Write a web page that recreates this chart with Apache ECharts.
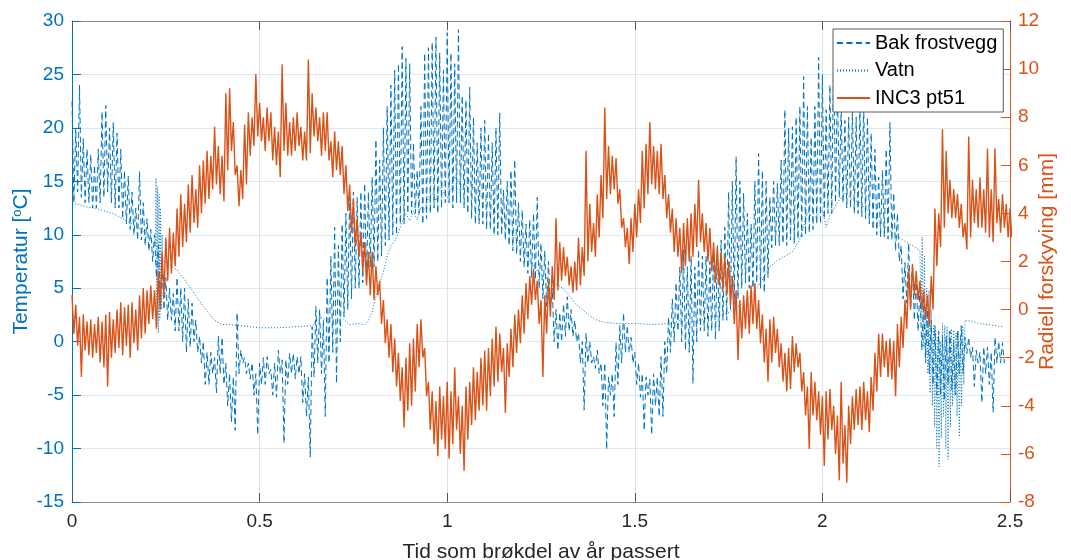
<!DOCTYPE html>
<html>
<head>
<meta charset="utf-8">
<title>Temperatur og radiell forskyving</title>
<script src="https://cdn.jsdelivr.net/npm/echarts@6/dist/echarts.min.js"></script>
<style>
  html, body { margin: 0; padding: 0; background: #fff; }
  #chart { width: 1071px; height: 560px; }
</style>
</head>
<body>
<div id="chart"></div>
<script>
  // tick labels
  var xTickLabels = ['0', '0.5', '1', '1.5', '2', '2.5'];
  var tempTickLabels = ['-15', '-10', '-5', '0', '5', '10', '15', '20', '25', '30'];
  var mmTickLabels = ['-8', '-6', '-4', '-2', '0', '2', '4', '6', '8', '10', '12'];

  // Bak frostvegg: high / low of the daily swing, one pair every 0.01 year (from 0 to 2.48)
  var bakMax = [
    22.5, 20, 24, 19, 18, 17.5, 16.5, 18, 21.5, 22.1,      // 0.00
    20, 20.5, 19.5, 18, 16, 15.5, 14, 12.5, 15.9, 13,       // 0.10
    11.5, 10.5, 10, 9, 7, 6, 5, 4.5, 6, 5,                  // 0.20
    5, 4, 3.6, 2, 0.5, 0, -1, -1, -1.5, 0.5,                // 0.30
    0.4, -2, -3, -3.3, 2.7, -0.8, -1.5, -2, -2, -3,         // 0.40
    -2, -1.5, -1.4, -2.6, -2, -0.8, -1.7, -1.7, -1.1, -1.1, // 0.50
    -1.4, -1.4, -3, -3.3, 1.4, 3.3, 3, 2, 6, 8,             // 0.60
    10.7, 9, 11, 12, 13.5, 14, 13.5, 14, 14.8, 14,          // 0.70
    15.4, 18.9, 17, 20, 22, 24, 25.4, 26, 27.6, 26.5,       // 0.80
    26, 18.6, 16, 22, 27, 27.5, 28, 28.5, 27, 25.4,         // 0.90
    28.9, 27, 26, 29.2, 23, 22.6, 23.8, 21, 18.6, 20,       // 1.00
    20.7, 19.5, 18.6, 20, 21.4, 14.2, 15, 16, 17, 13,       // 1.10
    12.3, 11, 11.4, 12, 13.5, 9.2, 8.5, 7.5, 5, 3,          // 1.20
    2.7, 3.5, 4.2, 3, 2, 0.8, 0, 0.8, 0, -1.4,              // 1.30
    -0.8, -2, -2, -3.3, -3, -0.1, 1.5, 2.7, 1.5, 0.4,       // 1.40
    -1, -2, -3, -3.3, -3.5, -3, -3.3, -1.4, 0, 2.3,         // 1.50
    4, 5.5, 7, 8.6, 7, 8, 7, 8.6, 8, 8,                     // 1.60
    7.5, 8.6, 9, 9.5, 10.7, 14, 15, 17.3, 15, 13.9,         // 1.70
    12, 11, 15, 17.6, 16, 15, 13.5, 15, 14.8, 17,           // 1.80
    21.7, 20, 20.1, 21, 22, 24.8, 22, 19.1, 22, 26.6,       // 1.90
    25, 21.7, 24, 27, 24, 22, 20.7, 21, 21.7, 21,           // 2.00
    22, 22.3, 21, 19.5, 18, 15.4, 16, 18, 20.5, 13.9,       // 2.10
    12, 9, 7.4, 9.2, 7, 6, 5, 4, 3, 2,                      // 2.20
    1.5, 1, 0.5, 0.5, 1, 0, 1, 1.5, 0.4, 0.4,               // 2.30
    -0.5, -0.8, -1, -0.5, -0.5, -1, 0.4, 0, -0.1            // 2.40
  ];
  var bakMin = [
    13, 14, 13.5, 13, 13, 12.5, 12.5, 13, 13.5, 14,         // 0.00
    13, 12.5, 12.5, 11.5, 11, 10.5, 10, 9.5, 9.5, 9,        // 0.10
    8.5, 7.5, 6, 4, 3, 2, 2, 1, 1, 0,                       // 0.20
    -1, -0.5, 0, -1, -2, -4, -4, -3, -4.8, -3,              // 0.30
    -4, -6, -7.5, -8.3, -3, -2, -3, -3.5, -5, -8.7,         // 0.40
    -4, -4, -3, -5, -5.2, -3, -9.5, -4, -3, -3.5,           // 0.50
    -3, -5.7, -7, -10.8, -3.3, -2, -3, -7, -2, -1,          // 0.60
    -3.9, 0, 2.3, 3, 4, 5, 5, 5.5, 6, 7,                    // 0.70
    7, 7.5, 8, 9, 9.5, 10, 10, 11, 11, 12,                  // 0.80
    12, 12, 12, 11, 11.5, 12, 12.5, 12, 12.5, 13,           // 0.90
    13, 12.5, 13, 13, 12.5, 12, 11.5, 11, 11, 11,           // 1.00
    10.5, 10.5, 10, 10, 10, 9.5, 9, 8.5, 8.2, 7.5,          // 1.10
    7, 6.4, 6, 5.8, 5, 4, 3.3, 3, 0, -0.8,                  // 1.20
    0, 0.5, 1, 0.5, 0, -2, -6.4, -2, -2, -2.5,              // 1.30
    -3, -6, -10.1, -5, -7, -4, -2, -1, -1, -2,              // 1.40
    -4, -5.2, -8.3, -5, -8.7, -6, -7, -7, -3, -1,           // 1.50
    0, 1, 0, -0.8, -1, -3.9, 0, 1, 1, 0.5,                  // 1.60
    1, 0.2, 1, 2, 2, 3, 3.5, 4, 5, 5.5,                     // 1.70
    5, 5, 5.5, 5, 4.6, 6, 8.8, 9, 9, 9.2,                   // 1.80
    9, 9.5, 9.2, 9.6, 9.8, 10, 10.2, 10.5, 11, 11,          // 1.90
    11.5, 12, 12, 13, 13.5, 13, 12.5, 12.5, 12, 12,         // 2.00
    11.7, 11.5, 11, 10.5, 10, 9.8, 9.8, 9.6, 9.5, 8.5,      // 2.10
    7.5, 4, 3.6, 3, 2, 1, -0.8, -2, -3, -4,                 // 2.20
    -5, -5, -5.5, -4, -4.5, -5, -3, -3, -1.1, -1.5,         // 2.30
    -4.2, -2, -5.7, -3, -4, -6.6, -2, -2, -2                // 2.40
  ];

  // Vatn
  var vatnTid = [
    0, 0.02, 0.04, 0.06, 0.08, 0.10, 0.12, 0.14, 0.16, 0.18, 0.20, 0.21,
    0.222, 0.224, 0.226, 0.228, 0.230, 0.232, 0.234, 0.236, 0.238, 0.240, 0.242,
    0.25, 0.28, 0.30, 0.32, 0.35, 0.38, 0.40, 0.42, 0.45, 0.50, 0.55, 0.60, 0.64,
    0.66, 0.68, 0.70, 0.72, 0.74, 0.76, 0.78, 0.79, 0.80, 0.81, 0.82, 0.83, 0.84,
    0.85, 0.86, 0.87, 0.88, 0.89, 0.90, 0.91, 0.92, 0.93, 0.94, 0.95, 0.96, 0.97,
    0.98, 0.99, 1.00, 1.01, 1.02, 1.03, 1.04, 1.05, 1.06, 1.07, 1.08, 1.10, 1.12,
    1.14, 1.16, 1.18, 1.20, 1.22, 1.24, 1.26, 1.28, 1.30, 1.32, 1.34, 1.36, 1.38,
    1.40, 1.42, 1.45, 1.50, 1.55, 1.60, 1.62, 1.64, 1.66, 1.68, 1.70, 1.72, 1.74,
    1.76, 1.78, 1.80, 1.82, 1.84, 1.86, 1.88, 1.90, 1.92, 1.94, 1.96, 1.98, 2.00,
    2.01, 2.02, 2.04, 2.06, 2.08, 2.10, 2.12, 2.14, 2.16, 2.18, 2.20, 2.22, 2.24,
    2.260, 2.263, 2.266, 2.269, 2.272, 2.275, 2.278, 2.281, 2.284, 2.287, 2.290,
    2.293, 2.296, 2.299, 2.302, 2.305, 2.308, 2.311, 2.314, 2.317, 2.320, 2.323,
    2.326, 2.329, 2.332, 2.335, 2.338, 2.341, 2.344, 2.347, 2.350, 2.353, 2.356,
    2.359, 2.362, 2.365, 2.368, 2.371, 2.374, 2.377, 2.380,
    2.40, 2.42, 2.44, 2.46, 2.48
  ];
  var vatnTemp = [
    13.0, 12.8, 12.6, 12.5, 12.3, 12.1, 11.8, 11.4, 11.0, 10.6, 10.0, 9.5,
    9, 15.3, 1.5, 14.5, 0.8, 13.8, 2, 12.5, 3, 10, 7.5,
    7.4, 6.7, 5.8, 4.8, 3.3, 2.0, 1.6, 1.6, 1.5, 1.3, 1.3, 1.4, 1.5,
    2.3, 2.0, 1.8, 2.2, 1.6, 1.7, 1.6, 2.0, 2.8, 4.2, 5.5, 6.5, 8.0,
    9.0, 9.4, 10.2, 11.2, 12.0, 11.3, 12.2, 11.4, 12.6, 12.3, 13.5, 13.9, 13.2,
    14.4, 14.0, 13.5, 14.2, 15.4, 15.0, 14.2, 14.6, 15.1, 14.4, 14.0, 13.2, 12.6,
    11.6, 10.8, 9.8, 8.8, 7.6, 6.6, 6.0, 5.6, 5.2, 4.6, 3.6, 3.0, 2.4,
    2.0, 1.8, 1.7, 1.7, 1.6, 1.7, 2.0, 1.8, 1.9, 2.1, 2.3, 2.4, 2.6,
    2.9, 3.4, 3.9, 4.8, 5.8, 7.0, 7.6, 8.0, 8.4, 9.6, 12.0, 11.6, 12.3,
    10.7, 11.8, 13.0, 13.9, 13.3, 13.0, 12.3, 11.6, 11.0, 10.4, 9.8, 9.4, 9.0,
    8.5, 2, 9.8, -0.5, 8, -1.5, 5, -3, 4.8, -4.8, 3,
    -6, 1.5, -8, 1, -10, 0.5, -11.7, 0, -9, 1.7, -7,
    1.5, -10, 1.4, -11, 1.0, -8, 1.2, -6, 1.1, -5, 0.8,
    -7, 1.0, -8.9, 0.6, -6, 1.5, -4, 2.0,
    1.9, 1.7, 1.6, 1.5, 1.4
  ];

  // INC3 pt51 (mm): high / low of the noisy band, one pair every 0.01 year (from 0 to 2.50)
  var incMax = [
    0.6, 0.2, -0.3, -0.2, -0.5, -0.4, -0.6, -0.3, -0.5, -0.2,   // 0.00
    -0.1, -0.4, 0.0, 0.3, 0.1, 0.2, 0.3, 0.0, 0.6, 0.9,         // 0.10
    0.8, 1.0, 0.8, 1.6, 2.4, 3.0, 3.4, 3.2, 4.2, 4.8,           // 0.20
    4.4, 5.2, 5.6, 5.0, 6.0, 6.2, 6.6, 6.4, 7.6, 6.8,           // 0.30
    6.4, 9.0, 9.2, 7.8, 6.0, 5.8, 7.7, 8.2, 8.0, 9.8,           // 0.40
    8.6, 8.0, 8.4, 8.2, 7.6, 7.4, 10.2, 8.6, 7.8, 8.0,          // 0.50
    8.2, 7.6, 7.4, 10.4, 9.0, 8.4, 8.0, 8.2, 8.2, 7.0,          // 0.60
    7.4, 7.0, 6.8, 6.0, 5.2, 4.6, 3.8, 3.2, 2.8, 2.4,           // 0.70
    2.4, 1.8, 1.2, 0.4, -0.4, -0.6, -1.2, -1.8, -2.4, -2.0,     // 0.80
    -1.4, -1.2, -0.6, -0.4, -1.6, -3.0, -3.4, -3.8, -3.2, -3.6, // 0.90
    -3.0, -3.4, -2.4, -3.6, -4.0, -3.2, -3.0, -2.4, -2.6, -2.0, // 1.00
    -1.7, -1.6, -1.2, -0.7, -1.0, -1.6, -1.4, -0.8, -0.2, 0.0,  // 1.10
    0.6, 1.1, 1.4, 1.7, 1.2, 0.4, 0.6, 1.2, 1.8, 3.8,           // 1.20
    2.8, 2.6, 2.2, 1.8, 2.0, 3.0, 2.6, 6.6, 4.4, 3.6,           // 1.30
    4.8, 5.6, 8.4, 6.8, 6.4, 6.3, 5.0, 3.8, 3.4, 3.8,           // 1.40
    4.4, 5.0, 6.6, 6.9, 7.8, 6.8, 6.6, 6.9, 5.6, 4.8,           // 1.50
    4.2, 3.8, 3.4, 3.6, 3.8, 4.0, 4.4, 5.4, 4.0, 3.6,           // 1.60
    3.4, 2.8, 2.6, 2.4, 2.2, 2.0, 1.4, 0.8, 0.4, 0.6,           // 1.70
    0.8, 1.0, 1.1, 0.4, -0.2, -0.8, -0.4, -0.3, -0.8, -1.4,     // 1.80
    -1.8, -1.6, -1.1, -1.4, -1.8, -2.6, -3.2, -2.6, -3.0, -3.4, // 1.90
    -3.6, -3.4, -3.3, -4.0, -4.4, -3.0, -4.8, -4.0, -3.6, -3.3, // 2.00
    -3.2, -3.0, -3.4, -2.8, -1.8, -1.0, -1.0, -1.3, -1.2, -1.3, // 2.10
    -0.6, -0.3, 0.4, 1.7, 1.9, 1.6, 1.2, 0.8, 0.6, 1.4,         // 2.20
    4.2, 4.0, 7.5, 6.6, 5.4, 5.0, 4.8, 4.4, 3.6, 7.2,           // 2.30
    5.4, 5.0, 5.5, 5.0, 6.7, 5.0, 6.7, 4.6, 4.8, 4.4,           // 2.40
    4.2                                                          // 2.50
  ];
  var incMin = [
    -1.0, -1.5, -2.8, -1.7, -1.9, -2.0, -1.8, -2.2, -2.4, -3.2, // 0.00
    -2.0, -1.8, -1.6, -1.9, -1.5, -2.0, -1.4, -1.7, -1.2, -1.0, // 0.10
    -0.6, -0.4, -0.8, 0.0, 0.6, 1.2, 1.5, 1.8, 2.2, 2.6,        // 0.20
    2.8, 3.2, 3.6, 3.4, 4.0, 4.4, 4.6, 5.0, 5.2, 4.8,           // 0.30
    4.5, 5.8, 6.6, 5.6, 4.3, 4.6, 5.2, 6.4, 6.8, 7.2,           // 0.40
    7.0, 6.6, 7.0, 6.2, 6.0, 5.5, 6.6, 6.4, 6.4, 6.6,           // 0.50
    6.8, 6.2, 6.2, 6.5, 7.2, 7.0, 6.4, 6.6, 6.2, 5.5,           // 0.60
    5.8, 5.6, 4.8, 4.1, 3.2, 2.6, 2.2, 1.6, 1.0, 0.6,           // 0.70
    0.4, 0.6, -0.6, -1.4, -2.0, -2.6, -3.2, -3.8, -4.9, -4.2,   // 0.80
    -4.0, -3.4, -2.4, -2.0, -3.6, -5.0, -5.6, -6.1, -5.4, -5.8, // 0.90
    -6.2, -5.6, -5.0, -6.0, -6.7, -5.4, -4.8, -4.6, -4.2, -4.0, // 1.00
    -4.2, -3.6, -3.2, -3.0, -2.6, -4.3, -2.8, -2.4, -1.8, -1.4, // 1.10
    -1.0, -0.4, 0.2, 0.4, -0.6, -2.8, -1.0, -0.3, 0.4, 0.8,     // 1.20
    1.2, 1.4, 1.0, 0.7, 0.8, 1.0, 1.4, 2.0, 2.4, 2.2,           // 1.30
    3.0, 3.8, 4.6, 4.8, 5.0, 4.4, 3.4, 2.6, 1.9, 2.4,           // 1.40
    3.0, 3.6, 4.2, 4.8, 5.2, 5.0, 4.8, 4.6, 3.8, 3.2,           // 1.50
    2.4, 2.2, 1.5, 1.8, 2.0, 2.2, 2.6, 2.8, 2.4, 2.0,           // 1.60
    1.6, 1.1, 1.0, 0.8, 0.6, 0.2, -0.6, -2.1, -1.2, -0.8,       // 1.70
    -1.0, -0.6, -0.8, -1.4, -2.2, -3.0, -2.2, -1.8, -2.4, -3.0, // 1.80
    -3.4, -3.3, -2.6, -2.4, -3.4, -4.4, -5.8, -4.4, -4.6, -5.2, // 1.90
    -6.5, -5.4, -5.0, -6.0, -7.1, -6.4, -7.2, -5.6, -5.0, -4.8, // 2.00
    -5.0, -4.6, -5.1, -4.2, -3.4, -2.8, -2.4, -2.8, -2.9, -3.6, // 2.10
    -2.4, -1.6, -0.8, 0.0, 0.6, 0.4, 0.0, -0.4, -0.7, 0.0,      // 2.20
    1.8, 2.6, 3.4, 4.0, 3.8, 3.8, 3.4, 3.0, 2.5, 3.0,           // 2.30
    3.6, 3.4, 3.4, 3.2, 3.0, 2.8, 3.6, 3.2, 3.4, 3.0,           // 2.40
    3.0                                                          // 2.50
  ];

  var STEP = 0.01;

  // max at the start of each step, min half a step later
  function swing(hi, lo) {
    var out = [];
    for (var i = 0; i < hi.length; i++) {
      out.push([+(i * STEP).toFixed(3), hi[i]]);
      out.push([+(i * STEP + STEP / 2).toFixed(3), lo[i]]);
    }
    return out;
  }

  function pairs(xs, ys) {
    return xs.map(function (x, i) { return [x, ys[i]]; });
  }

  var blue = '#0072BD';
  var orange = '#D95319';
  var font = 'Liberation Sans, Arial, Helvetica, sans-serif';

  var chart = echarts.init(document.getElementById('chart'), null, { renderer: 'canvas' });

  var option = {
    animation: false,
    backgroundColor: '#fff',
    textStyle: { fontFamily: font },
    grid: { left: 72, right: 61, top: 21, bottom: 58, containLabel: false, outerBoundsMode: 'none' },
    legend: {
      orient: 'vertical',
      left: 833,
      top: 29,
      padding: [4, 6, 4, 3],
      itemGap: 7.5,
      itemWidth: 33,
      itemHeight: 20,
      itemTextGap: 4,
      itemStyle: { opacity: 0, borderWidth: 0 },
      backgroundColor: '#fff',
      borderColor: '#5a5a5a',
      borderWidth: 1,
      borderRadius: 0,
      textStyle: { color: '#000', fontSize: 20, fontFamily: font },
      data: ['Bak frostvegg', 'Vatn', 'INC3 pt51']
    },
    xAxis: [
      {
        type: 'value',
        position: 'bottom',
        min: 0,
        max: 2.5,
        interval: 0.5,
        name: 'Tid som brøkdel av år passert',
        nameLocation: 'middle',
        nameGap: 40,
        nameMoveOverlap: false,
        nameTextStyle: { color: '#262626', fontSize: 21 },
        axisLine: { onZero: false, lineStyle: { color: '#8c8c8c', width: 1 } },
        axisTick: { inside: true, length: 9, lineStyle: { color: '#555' } },
        axisLabel: {
          color: '#262626',
          fontSize: 19,
          margin: 10,
          formatter: function (v) { return xTickLabels[Math.round(v / 0.5)]; }
        },
        splitLine: { show: true, lineStyle: { color: '#e1e1e1', width: 1 } }
      },
      {
        type: 'value',
        position: 'top',
        min: 0,
        max: 2.5,
        interval: 0.5,
        axisLine: { onZero: false, lineStyle: { color: '#8c8c8c', width: 1 } },
        axisTick: { inside: true, length: 9, lineStyle: { color: '#555' } },
        axisLabel: { show: false },
        splitLine: { show: false }
      }
    ],
    yAxis: [
      {
        type: 'value',
        position: 'left',
        min: -15,
        max: 30,
        interval: 5,
        name: 'Temperatur [{s|o}C]',
        nameLocation: 'middle',
        nameRotate: 90,
        nameGap: 40,
        nameMoveOverlap: false,
        nameTextStyle: {
          color: blue,
          fontSize: 21,
          rich: { s: { color: blue, fontSize: 13, verticalAlign: 'top', lineHeight: 21 } }
        },
        axisLine: { show: true, onZero: false, lineStyle: { color: blue, width: 1 } },
        axisTick: { show: true, inside: true, length: 9, lineStyle: { color: blue } },
        axisLabel: {
          color: blue,
          fontSize: 19,
          margin: 8,
          formatter: function (v) { return tempTickLabels[Math.round((v + 15) / 5)]; }
        },
        splitLine: { show: true, lineStyle: { color: '#d9eaf5', width: 1 } }
      },
      {
        type: 'value',
        position: 'right',
        min: -8,
        max: 12,
        interval: 2,
        name: 'Radiell forskyving [mm]',
        nameLocation: 'middle',
        nameRotate: 90,
        nameGap: 27,
        nameMoveOverlap: false,
        nameTextStyle: { color: orange, fontSize: 21 },
        axisLine: { show: true, onZero: false, lineStyle: { color: orange, width: 1 } },
        axisTick: { show: true, inside: true, length: 9, lineStyle: { color: orange } },
        axisLabel: {
          color: orange,
          fontSize: 19,
          margin: 8,
          formatter: function (v) { return mmTickLabels[Math.round((v + 8) / 2)]; }
        },
        splitLine: { show: false }
      }
    ],
    series: [
      {
        name: 'Bak frostvegg',
        type: 'line',
        xAxisIndex: 0,
        yAxisIndex: 0,
        data: swing(bakMax, bakMin),
        symbol: 'none',
        color: blue,
        lineStyle: { color: blue, width: 1, type: [6, 3.5] },
        z: 2
      },
      {
        name: 'Vatn',
        type: 'line',
        xAxisIndex: 0,
        yAxisIndex: 0,
        data: pairs(vatnTid, vatnTemp),
        symbol: 'none',
        color: blue,
        lineStyle: { color: blue, width: 1, type: [1, 2] },
        z: 3
      },
      {
        name: 'INC3 pt51',
        type: 'line',
        xAxisIndex: 0,
        yAxisIndex: 1,
        data: swing(incMax, incMin),
        symbol: 'none',
        color: orange,
        lineStyle: { color: orange, width: 1.4 },
        z: 4
      }
    ]
  };

  chart.setOption(option);
</script>
</body>
</html>
